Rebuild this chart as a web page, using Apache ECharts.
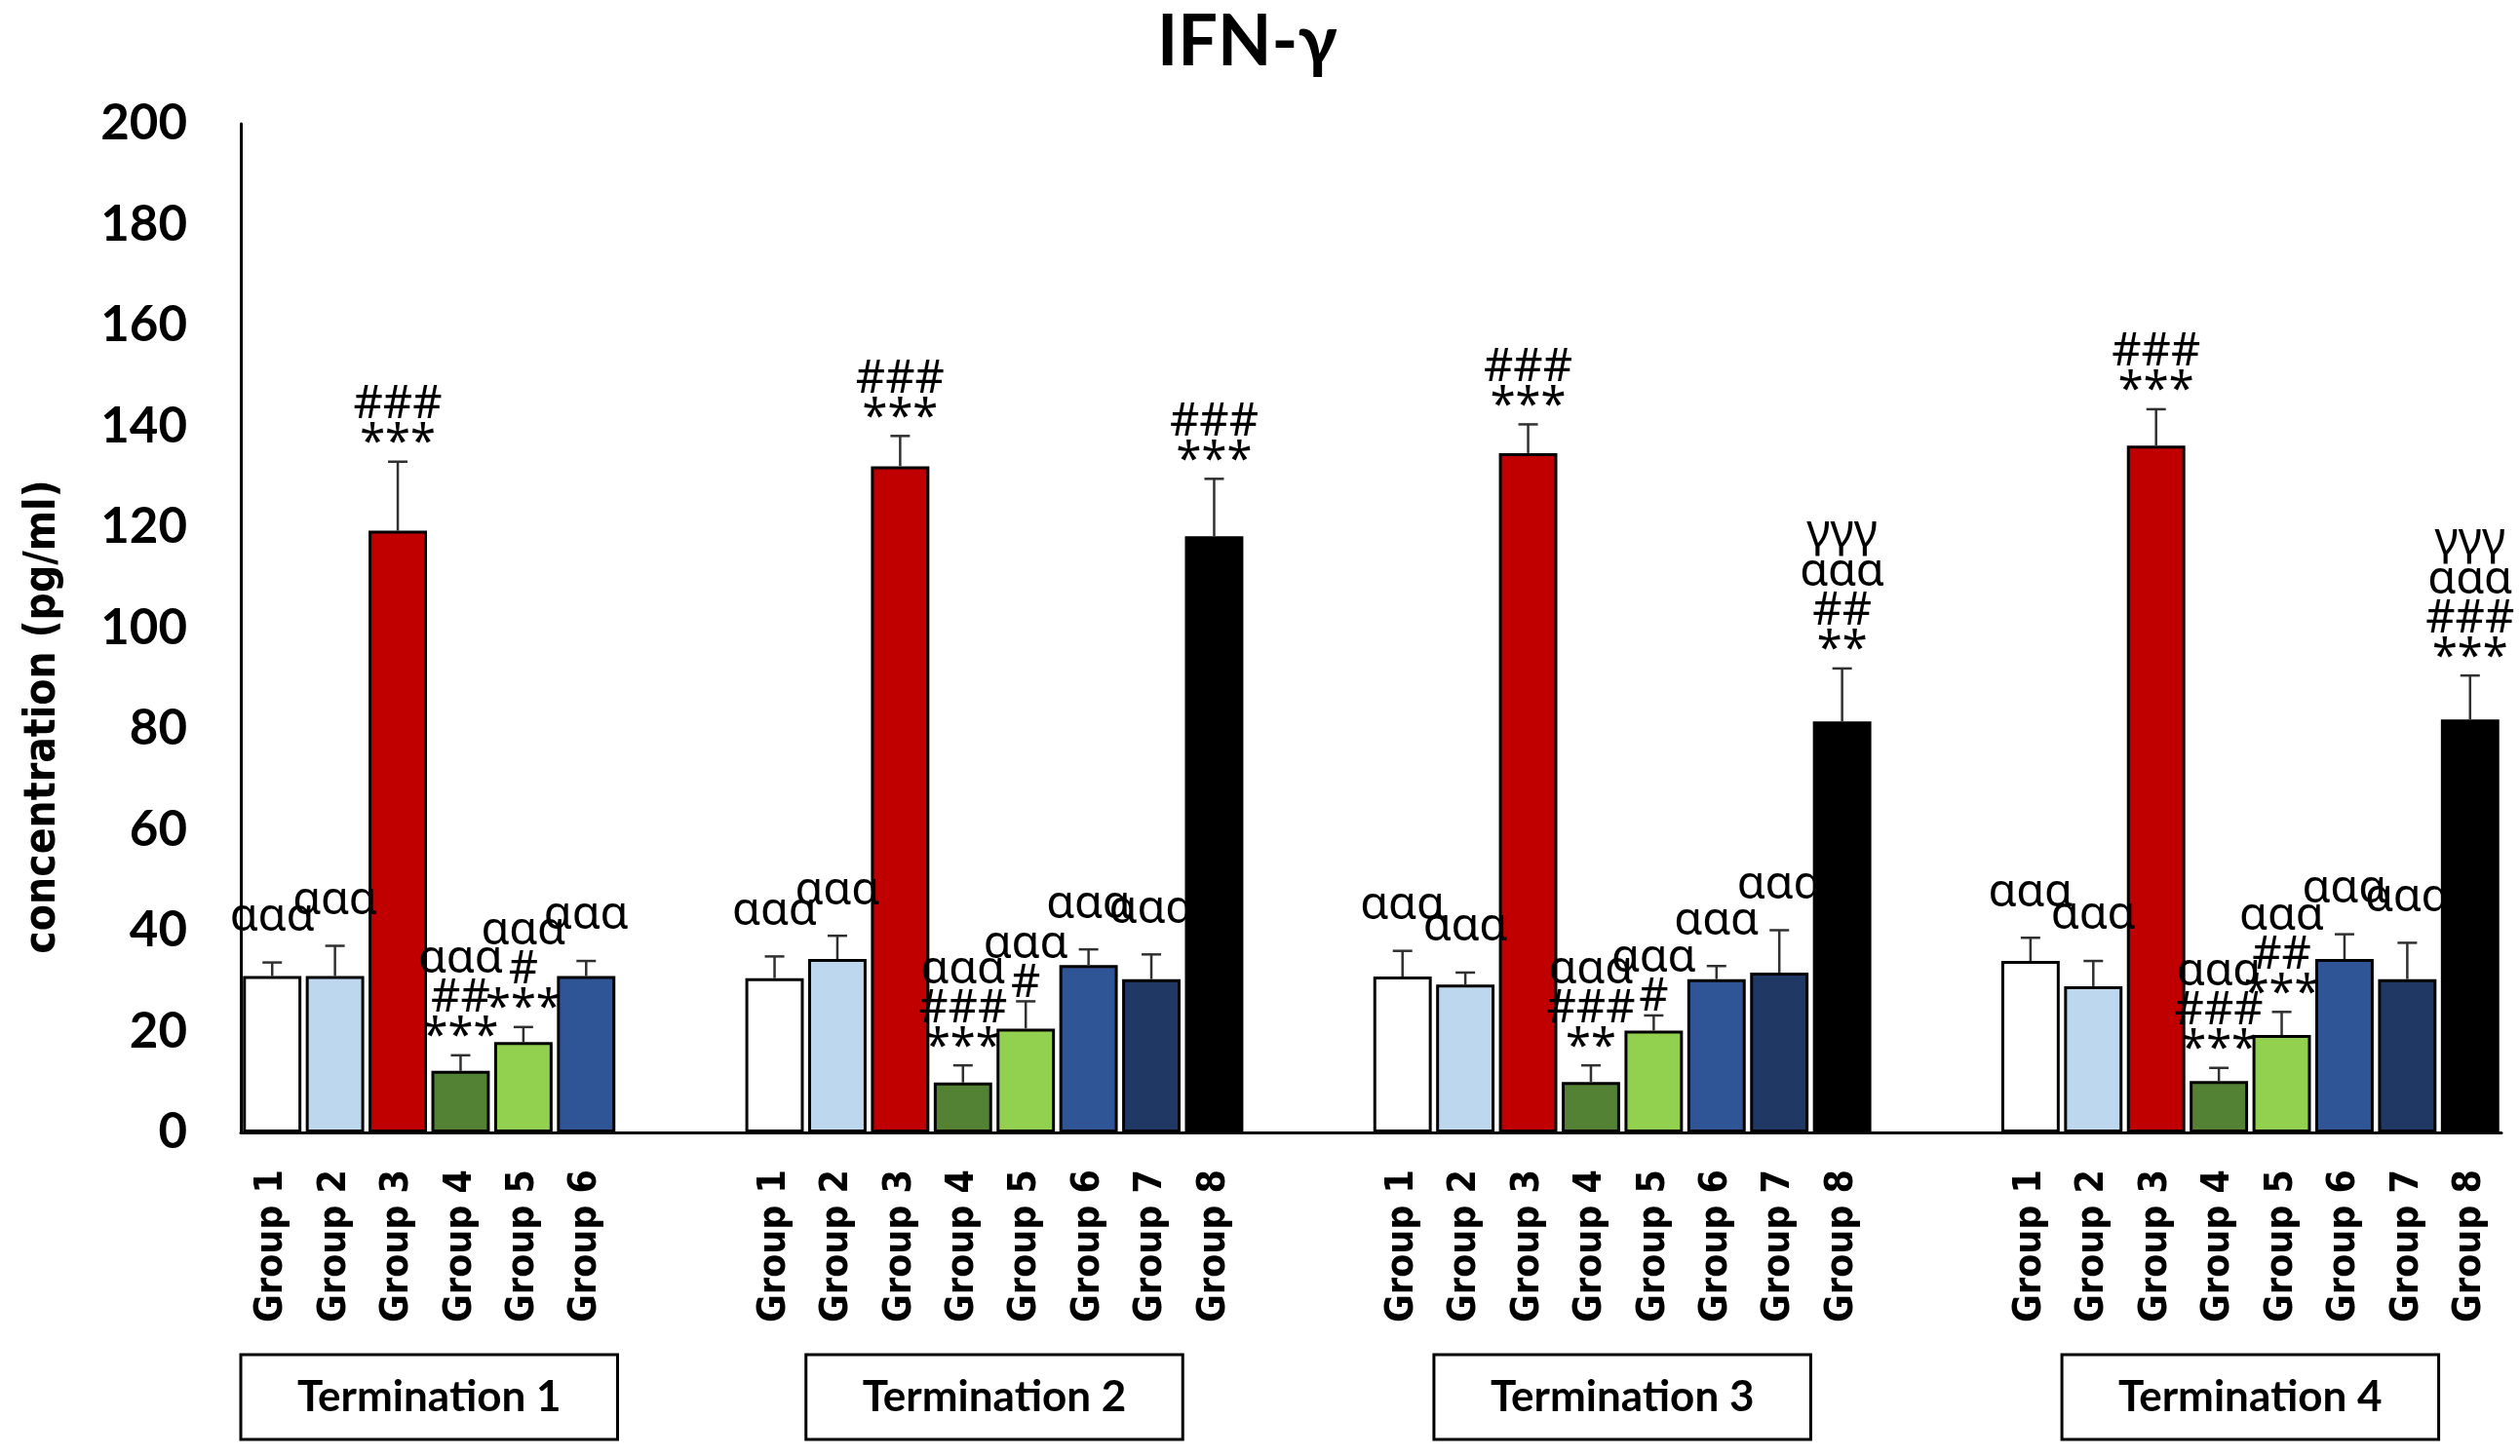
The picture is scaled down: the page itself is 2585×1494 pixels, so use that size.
<!DOCTYPE html>
<html><head><meta charset="utf-8">
<script src="https://cdn.jsdelivr.net/npm/echarts@6/dist/echarts.min.js"></script>
<style>html,body{margin:0;padding:0;background:#fff}#c{width:2585px;height:1494px}</style>
</head><body><div id="c"></div>
<script>
// ---------- data ----------
const chartTitle = 'IFN-γ';
const yAxisTitle = 'concentration (pg/ml)';
const terminations = ['Termination 1', 'Termination 2', 'Termination 3', 'Termination 4'];
const groupsT1 = ['Group 1', 'Group 2', 'Group 3', 'Group 4', 'Group 5', 'Group 6'];
const groupsT234 = ['Group 1', 'Group 2', 'Group 3', 'Group 4', 'Group 5', 'Group 6', 'Group 7', 'Group 8'];
const groupColors = ['#FFFFFF', '#BDD7EE', '#C00000', '#548235', '#92D050', '#2F5597', '#203864', '#000000'];

const meansT1 = [31.0, 31.0, 119.3, 12.2, 17.9, 31.0];
const errorsT1 = [2.7, 6.0, 13.7, 3.1, 3.0, 3.0];
const marksT1 = ['ααα', 'ααα', '###\n***', 'ααα\n##\n***', 'ααα\n#\n***', 'ααα'];

const meansT2 = [30.6, 34.4, 132.1, 9.9, 20.6, 33.2, 30.4, 118.2];
const errorsT2 = [4.3, 4.6, 6.0, 3.4, 5.4, 3.1, 4.9, 11.4];
const marksT2 = ['ααα', 'ααα', '###\n***', 'ααα\n###\n***', 'ααα\n#', 'ααα', 'ααα', '###\n***'];

const meansT3 = [30.9, 29.3, 134.7, 10.0, 20.2, 30.4, 31.7, 81.5];
const errorsT3 = [5.1, 2.4, 5.7, 3.3, 3.0, 2.6, 8.4, 10.5];
const marksT3 = ['ααα', 'ααα', '###\n***', 'ααα\n###\n**', 'ααα\n#', 'ααα', 'ααα', 'γγγ\nααα\n##\n**'];

const meansT4 = [34.0, 29.0, 136.2, 10.2, 19.3, 34.4, 30.4, 81.9];
const errorsT4 = [4.6, 5.0, 7.2, 2.6, 4.6, 4.9, 7.2, 8.7];
const marksT4 = ['ααα', 'ααα', '###\n***', 'ααα\n###\n***', 'ααα\n##\n***', 'ααα', 'ααα', 'γγγ\nααα\n###\n***'];

const yMin = 0, yMax = 200, yInterval = 20;

// ---------- build slots ----------
const blocks = [
  { groups: groupsT1, means: meansT1, errs: errorsT1, marks: marksT1 },
  { groups: groupsT234, means: meansT2, errs: errorsT2, marks: marksT2 },
  { groups: groupsT234, means: meansT3, errs: errorsT3, marks: marksT3 },
  { groups: groupsT234, means: meansT4, errs: errorsT4, marks: marksT4 }
];
const GAP_SLOTS = 2;
const categories = [], barData = [], errData = [], markText = [], blockRanges = [];
blocks.forEach((b, bi) => {
  if (bi > 0) {
    for (let k = 0; k < GAP_SLOTS; k++) { categories.push(''); barData.push(null); markText.push(''); }
  }
  const start = categories.length;
  b.groups.forEach((g, i) => {
    const idx = categories.length;
    categories.push(g);
    barData.push({ value: b.means[i], itemStyle: { color: groupColors[i] } });
    errData.push([idx, b.means[i], b.errs[i]]);
    markText.push(b.marks[i]);
  });
  blockRanges.push([start, categories.length - 1]);
});

const chart = echarts.init(document.getElementById('c'), null, { renderer: 'canvas' });
const GRID = { left: 247, right: 19, top: 127, bottom: 332 };
const CONDENSED = '"DejaVu Sans Condensed", "DejaVu Sans", sans-serif';

function markOffset(text) {
  const lines = text.split('\n');
  const last = lines[lines.length - 1];
  if (last[0] === '*' || last[0] === '#') return -2;
  return 26;
}

const option = {
  backgroundColor: '#ffffff',
  animation: false,
  title: {
    text: chartTitle, left: 1182, top: 3,
    textStyle: { fontFamily: 'Lato, "Noto Sans", sans-serif', fontWeight: 'bold', fontSize: 72, color: '#000' }
  },
  grid: Object.assign({ outerBoundsMode: 'none', containLabel: false }, GRID),
  xAxis: {
    type: 'category', data: categories,
    axisLine: { show: true, lineStyle: { color: '#000', width: 3 } },
    axisTick: { show: false },
    axisLabel: {
      interval: 0, rotate: 90, margin: 38, color: '#000',
      fontFamily: CONDENSED, fontWeight: 'bold', fontSize: 39
    },
    splitLine: { show: false }
  },
  yAxis: {
    type: 'value', min: yMin, max: yMax, interval: yInterval,
    axisLine: { show: true, lineStyle: { color: '#000', width: 3 } },
    axisTick: { show: false },
    splitLine: { show: false },
    axisLabel: {
      margin: 55, color: '#000',
      fontFamily: 'Lato, sans-serif', fontWeight: 'bold', fontSize: 51
    }
  },
  series: [
    {
      type: 'bar', data: barData, barCategoryGap: '7%',
      itemStyle: { borderColor: '#000', borderWidth: 3 },
      z: 2
    },
    {
      type: 'custom', data: errData, encode: { x: 0, y: 1 }, z: 3, clip: false,
      renderItem: function (params, api) {
        const idx = api.value(0), m = api.value(1), e = api.value(2);
        const p0 = api.coord([idx, m]);
        const p1 = api.coord([idx, m + e]);
        const cap = 10;
        const lineStyle = { stroke: '#303030', lineWidth: 2.5 };
        const txt = markText[idx];
        return {
          type: 'group',
          children: [
            { type: 'line', shape: { x1: p0[0], y1: p0[1], x2: p1[0], y2: p1[1] }, style: lineStyle },
            { type: 'line', shape: { x1: p1[0] - cap, y1: p1[1], x2: p1[0] + cap, y2: p1[1] }, style: lineStyle },
            {
              type: 'text', x: p1[0], y: p1[1] - markOffset(txt),
              style: {
                text: txt, fill: '#000', align: 'center', verticalAlign: 'bottom',
                font: '47px "Noto Sans", "DejaVu Sans", sans-serif', lineHeight: 40
              }
            }
          ]
        };
      }
    }
  ]
};
chart.setOption(option);

// termination boxes and y-axis title positioned from the axes
const px = i => chart.convertToPixel({ xAxisIndex: 0 }, i);
const slotW = px(1) - px(0);
const axisY = chart.convertToPixel({ yAxisIndex: 0 }, 0);
const midY = (chart.convertToPixel({ yAxisIndex: 0 }, yMax) + axisY) / 2;
const graphics = [];
blockRanges.forEach((r, bi) => {
  const cx = (px(r[0]) + px(r[1])) / 2;
  const w = slotW * 6, h = 87, top = axisY + 228;
  graphics.push({
    type: 'rect', shape: { x: cx - w / 2, y: top, width: w, height: h },
    style: { fill: '#fff', stroke: '#000', lineWidth: 3 }
  });
  graphics.push({
    type: 'text', x: cx, y: top + h / 2,
    style: {
      text: terminations[bi], fill: '#000', align: 'center', verticalAlign: 'middle',
      font: 'bold 44px Lato, sans-serif'
    }
  });
});
graphics.push({
  type: 'text', x: 45, y: midY + 91, rotation: Math.PI / 2,
  style: {
    text: yAxisTitle, fill: '#000', align: 'center', verticalAlign: 'middle',
    font: 'bold 44px ' + CONDENSED
  }
});
chart.setOption({ graphic: graphics });
</script></body></html>
